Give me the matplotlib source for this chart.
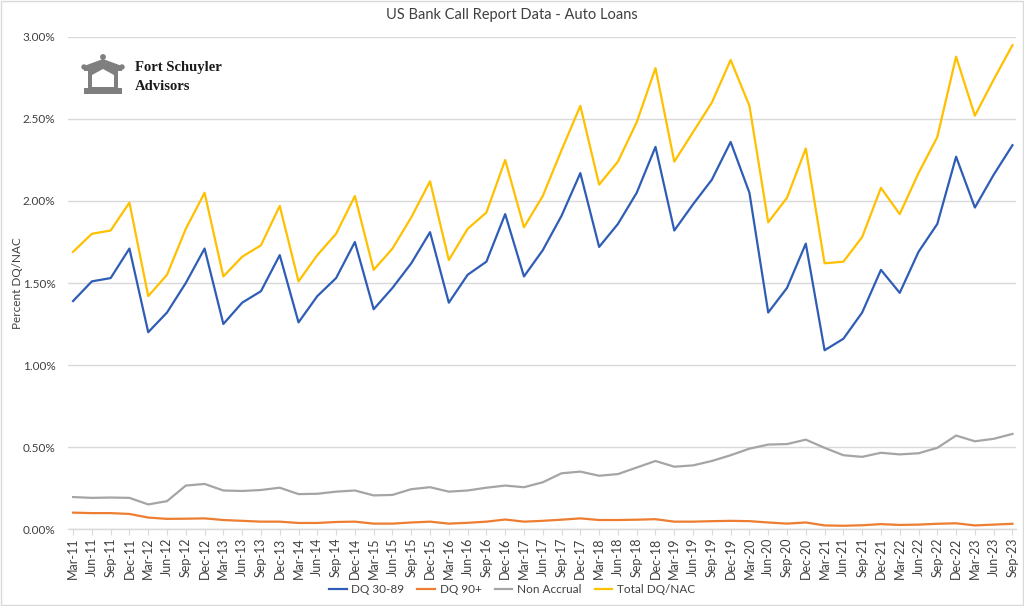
import numpy as np
import matplotlib
matplotlib.use("Agg")
import matplotlib.pyplot as plt
from matplotlib.patches import Circle, Rectangle, PathPatch
from matplotlib.path import Path
from matplotlib.ticker import FuncFormatter, MultipleLocator

plt.rcParams["font.family"] = ["Lato", "DejaVu Sans"]

quarters = [
    f"{m}-{y:02d}"
    for y in range(11, 24)
    for m in ("Mar", "Jun", "Sep", "Dec")
][:51]

dq_30_89 = [
    1.39, 1.51, 1.53, 1.71, 1.20, 1.32, 1.50, 1.71, 1.25, 1.38, 1.45, 1.67,
    1.26, 1.42, 1.53, 1.75, 1.34, 1.47, 1.62, 1.81, 1.38, 1.55, 1.63, 1.92,
    1.54, 1.70, 1.91, 2.17, 1.72, 1.86, 2.05, 2.33, 1.82, 1.98, 2.13, 2.36,
    2.05, 1.32, 1.47, 1.74, 1.09, 1.16, 1.32, 1.58, 1.44, 1.69, 1.86, 2.27,
    1.96, 2.16, 2.34,
]
dq_90_plus = [
    0.100, 0.097, 0.097, 0.092, 0.070, 0.062, 0.063, 0.065, 0.055, 0.050,
    0.045, 0.045, 0.037, 0.037, 0.043, 0.045, 0.033, 0.033, 0.040, 0.045,
    0.033, 0.038, 0.045, 0.058, 0.045, 0.050, 0.057, 0.065, 0.055, 0.055,
    0.057, 0.060, 0.045, 0.045, 0.048, 0.050, 0.048, 0.040, 0.033, 0.040,
    0.022, 0.020, 0.023, 0.030, 0.025, 0.027, 0.032, 0.035, 0.022, 0.027,
    0.032,
]
non_accrual = [
    0.195, 0.190, 0.192, 0.190, 0.150, 0.170, 0.265, 0.275, 0.235, 0.232,
    0.238, 0.252, 0.213, 0.215, 0.228, 0.235, 0.205, 0.208, 0.243, 0.255,
    0.228, 0.235, 0.252, 0.265, 0.255, 0.285, 0.340, 0.350, 0.325, 0.335,
    0.375, 0.415, 0.380, 0.388, 0.415, 0.450, 0.490, 0.515, 0.518, 0.545,
    0.495, 0.450, 0.440, 0.465, 0.455, 0.462, 0.495, 0.570, 0.535, 0.550,
    0.580,
]
total_dq_nac = [
    1.69, 1.80, 1.82, 1.99, 1.42, 1.55, 1.83, 2.05, 1.54, 1.66, 1.73, 1.97,
    1.51, 1.67, 1.80, 2.03, 1.58, 1.71, 1.90, 2.12, 1.64, 1.83, 1.93, 2.25,
    1.84, 2.03, 2.31, 2.58, 2.10, 2.24, 2.48, 2.81, 2.24, 2.42, 2.60, 2.86,
    2.58, 1.87, 2.02, 2.32, 1.62, 1.63, 1.78, 2.08, 1.92, 2.17, 2.39, 2.88,
    2.52, 2.74, 2.95,
]

series = [
    ("DQ 30-89", dq_30_89, "#2F5DB6"),
    ("DQ 90+", dq_90_plus, "#ED7D31"),
    ("Non Accrual", non_accrual, "#A5A5A5"),
    ("Total DQ/NAC", total_dq_nac, "#FFC000"),
]
text_color = "#404040"

fig = plt.figure(figsize=(10.24, 6.06), dpi=100)
fig.patches.append(Rectangle((0.001, 0.001), 0.998, 0.997, transform=fig.transFigure,
                             fill=False, edgecolor="#D9D9D9", linewidth=1.0))

ax = fig.add_axes([0.0664, 0.127, 0.926, 0.812])
x = np.arange(len(quarters))
for name, vals, color in series:
    ax.plot(x, vals, color=color, linewidth=1.6, label=name)

ax.set_xlim(-0.27, 50.2)
ax.set_ylim(0, 3.0)
ax.yaxis.set_major_locator(MultipleLocator(0.5))
ax.yaxis.set_major_formatter(FuncFormatter(lambda v, p: f"{v:.2f}%"))
ax.grid(axis="y", color="#D9D9D9", linewidth=1.0)
ax.set_axisbelow(True)
for s in ("top", "right", "left"):
    ax.spines[s].set_visible(False)
ax.spines["bottom"].set_color("#D9D9D9")
ax.spines["bottom"].set_linewidth(1.0)
ax.set_xticks(x)
ax.set_xticklabels(quarters, rotation=90, fontsize=9, color=text_color)
ax.tick_params(axis="x", length=4, color="#D9D9D9", pad=2)
ax.tick_params(axis="y", length=0, labelsize=8.5, labelcolor=text_color, pad=9)
ax.set_ylabel("Percent DQ/NAC", fontsize=8.5, color=text_color)
ax.yaxis.set_label_coords(-0.047, 0.5)

# title and legend are centred on the whole figure, like the Excel original
fig.text(0.5, 0.975, "US Bank Call Report Data - Auto Loans", fontsize=10.5,
         color=text_color, ha="center", va="center")
fig.legend(*ax.get_legend_handles_labels(), loc="center", bbox_to_anchor=(0.5, 0.027),
           ncol=4, frameon=False, fontsize=8.5, labelcolor=text_color,
           handlelength=1.5, handletextpad=0.4, columnspacing=1.1, borderpad=0.2)

# logo (decoration) in pixel coordinates
lax = fig.add_axes([0, 0, 1, 1], facecolor="none")
lax.set_xlim(0, 1024)
lax.set_ylim(606, 0)
lax.axis("off")
logo_gray = "#7F7F7F"
outer = [(84, 66), (103, 59), (122, 66), (122, 71), (118, 71), (118, 88),
         (122, 88), (122, 94), (84, 94), (84, 88), (88, 88), (88, 71), (84, 71)]
inner = [(92, 75), (103, 69), (114, 75), (114, 87), (92, 87)]
verts = outer + [outer[0]] + inner[::-1] + [inner[-1]]
codes = ([Path.MOVETO] + [Path.LINETO] * (len(outer) - 1) + [Path.CLOSEPOLY]
         + [Path.MOVETO] + [Path.LINETO] * (len(inner) - 1) + [Path.CLOSEPOLY])
lax.add_patch(PathPatch(Path(verts, codes), facecolor=logo_gray, edgecolor="none"))
lax.add_patch(Circle((103, 57), 2.2, color=logo_gray))
lax.add_patch(Circle((84, 67), 2.0, color=logo_gray))
lax.add_patch(Circle((122, 67), 2.0, color=logo_gray))
lax.text(135, 68, "Fort Schuyler", family="Liberation Serif", fontsize=10.5,
         weight="bold", color="#1A1A1A", va="center")
lax.text(135, 87, "Advisors", family="Liberation Serif", fontsize=10.5,
         weight="bold", color="#1A1A1A", va="center")

fig.savefig("out.png", dpi=100)
